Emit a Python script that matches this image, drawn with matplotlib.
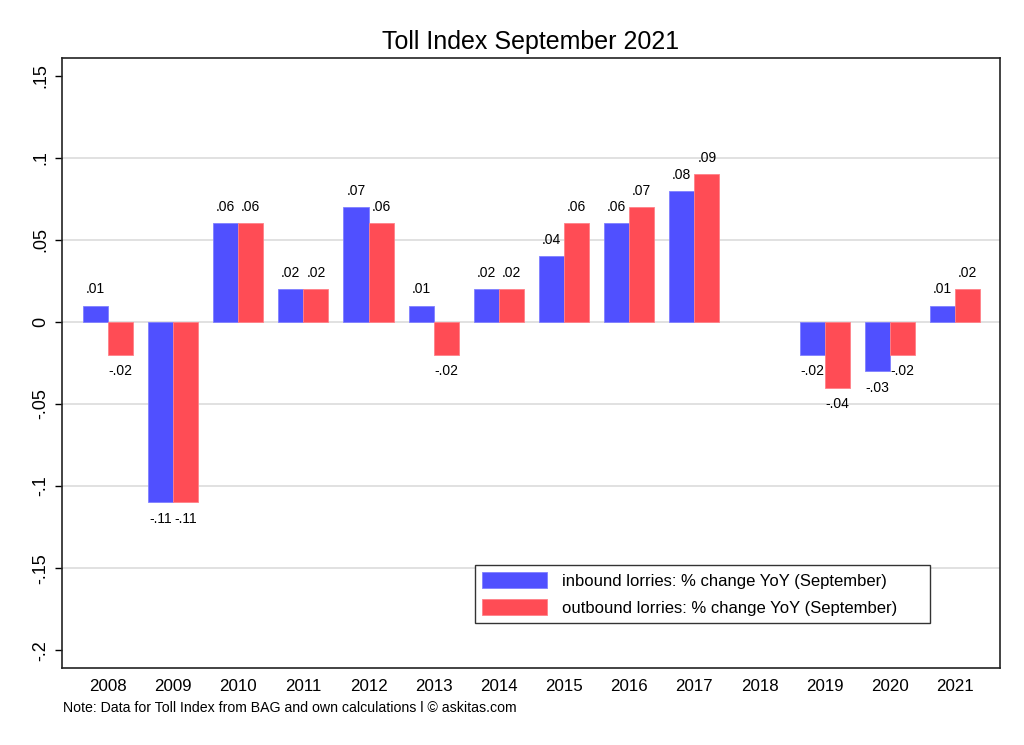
import numpy as np
import matplotlib
matplotlib.use("Agg")
import matplotlib.pyplot as plt

plt.rcParams['font.family'] = ['Liberation Sans', 'DejaVu Sans']

years = [2008, 2009, 2010, 2011, 2012, 2013, 2014, 2015, 2016, 2017, 2018, 2019, 2020, 2021]
inbound = [.01, -.11, .06, .02, .07, .01, .02, .04, .06, .08, np.nan, -.02, -.03, .01]
outbound = [-.02, -.11, .06, .02, .06, -.02, .02, .06, .07, .09, np.nan, -.04, -.02, .02]
yticks = [-.2, -.15, -.1, -.05, 0, .05, .1, .15]
ytick_labels = ["-.2", "-.15", "-.1", "-.05", "0", ".05", ".1", ".15"]

blue = "#5050FF"
red = "#FF4C55"

fig = plt.figure(figsize=(10.24, 7.45), dpi=100)
ax = fig.add_axes([0.0605, 0.1034, 0.9161, 0.8188])

x = np.array(years, dtype=float)
w = 0.385
ax.bar(x - w / 2, inbound, w, color=blue, edgecolor="#8080FF", linewidth=0.6, zorder=3,
       label="inbound lorries: % change YoY (September)")
ax.bar(x + w / 2, outbound, w, color=red, edgecolor="#FF8088", linewidth=0.6, zorder=3,
       label="outbound lorries: % change YoY (September)")

# value labels
for xs, vals in [(x - w / 2, inbound), (x + w / 2, outbound)]:
    for xi, v in zip(xs, vals):
        if np.isnan(v):
            continue
        txt = ("%.2f" % v).replace("0.", ".")
        if v >= 0:
            ax.annotate(txt, (xi, v), xytext=(0, 6.5), textcoords="offset points",
                        ha="center", va="bottom", fontsize=10)
        else:
            ax.annotate(txt, (xi, v), xytext=(0, -7), textcoords="offset points",
                        ha="center", va="top", fontsize=10)

# grid lines (not on the outer ticks)
for yt in yticks[1:-1]:
    ax.axhline(yt, color="#DCDCDC", linewidth=1.2, zorder=1)

ax.set_xlim(years[0] - 0.705, years[-1] + 0.69)
ax.set_ylim(-0.2108, 0.1608)
ax.set_xticks(years)
ax.set_xticklabels([str(y) for y in years], fontsize=12.2)
ax.tick_params(axis="x", length=0, pad=8)
ax.set_yticks(yticks)
ax.set_yticklabels(ytick_labels, rotation=90, va="center", fontsize=13)
ax.tick_params(axis="y", length=5, width=1, direction="out", pad=4)
for s in ax.spines.values():
    s.set_linewidth(1.2)
    s.set_color("#222222")

ax.set_title("Toll Index September 2021", fontsize=18, pad=6.5)

leg = ax.legend(loc="upper left", bbox_to_anchor=(0.4403, 0.069, 0.485, 0.1), mode="expand",
                fontsize=12, fancybox=False, edgecolor="#333333", framealpha=1,
                handlelength=3.9, handleheight=1.08, borderpad=0.45, labelspacing=0.6,
                handletextpad=0.85, borderaxespad=0)
leg.get_frame().set_linewidth(1.0)

fig.text(0.0615, 0.0497, "Note: Data for Toll Index from BAG and own calculations l \u00a9 askitas.com",
         fontsize=10.2, ha="left", va="center")

fig.savefig("out.png", dpi=100)
